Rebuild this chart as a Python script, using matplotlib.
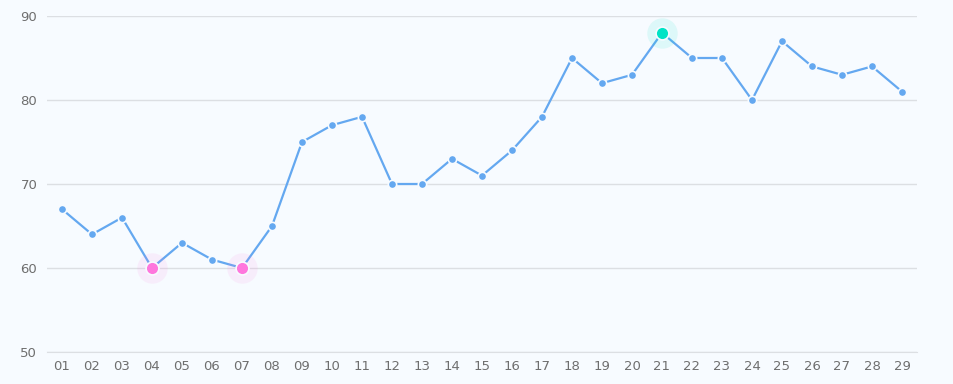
import matplotlib.pyplot as plt
import numpy as np

# Daily values
days = ['01', '02', '03', '04', '05', '06', '07', '08', '09', '10',
        '11', '12', '13', '14', '15', '16', '17', '18', '19', '20',
        '21', '22', '23', '24', '25', '26', '27', '28', '29']
values = [67, 64, 66, 60, 63, 61, 60, 65, 75, 77,
          78, 70, 70, 73, 71, 74, 78, 85, 82, 83,
          88, 85, 85, 80, 87, 84, 83, 84, 81]

bg = '#f7fbff'
line_color = '#64a8f0'
min_color = '#ff77dd'
max_color = '#00e3c6'

fig = plt.figure(figsize=(9.54, 3.84), dpi=100, facecolor=bg)
ax = fig.add_axes([47 / 954, 32 / 384, 870 / 954, 336 / 384], facecolor=bg)

x = np.arange(len(days))
ax.plot(x, values, color=line_color, linewidth=1.6, zorder=2)
ax.scatter(x, values, s=36, color=line_color, edgecolor=bg, linewidth=1.2, zorder=3)

# highlight min and max points
vmin, vmax = min(values), max(values)
for i, v in enumerate(values):
    if v == vmin:
        ax.scatter(i, v, s=480, color=min_color, alpha=0.1, linewidth=0, zorder=3)
        ax.scatter(i, v, s=85, color=min_color, edgecolor=bg, linewidth=1.2, zorder=4)
    elif v == vmax:
        ax.scatter(i, v, s=480, color=max_color, alpha=0.1, linewidth=0, zorder=3)
        ax.scatter(i, v, s=85, color=max_color, edgecolor=bg, linewidth=1.2, zorder=4)

ax.set_xlim(-0.5, len(days) - 0.5)
ax.set_ylim(50, 90)
ax.set_yticks([50, 60, 70, 80, 90])
ax.set_xticks(x)
ax.set_xticklabels(days)
ax.grid(axis='y', color='#dcdfe3', linewidth=1)
ax.set_axisbelow(True)
for side in ['top', 'right', 'left']:
    ax.spines[side].set_visible(False)
ax.spines['bottom'].set_color('#dcdfe3')
ax.tick_params(axis='both', length=0, labelsize=9.5, labelcolor='#6e6e6e')
ax.tick_params(axis='y', pad=7)
ax.tick_params(axis='x', pad=6)

fig.savefig('out.png', dpi=100, facecolor=bg)
